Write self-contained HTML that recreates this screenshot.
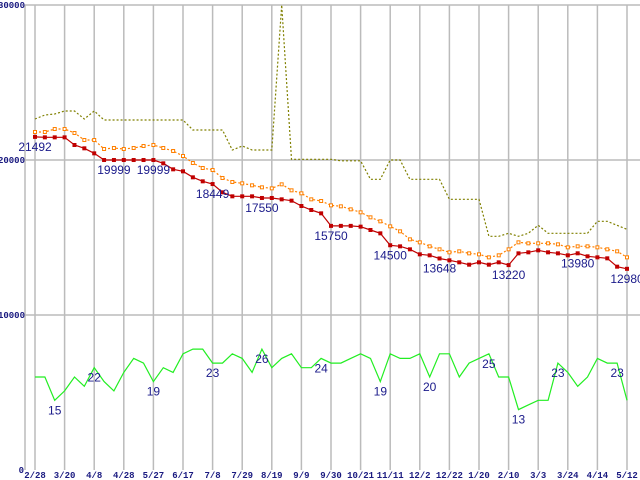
<!DOCTYPE html>
<html><head><meta charset="utf-8"><style>
html,body{margin:0;padding:0;background:#fff;}
svg{display:block;font-family:"Liberation Sans",sans-serif;}
.yt{font-family:"Liberation Mono",monospace;font-size:9px;font-weight:bold;fill:#1a1a80;}
.xt{font-family:"Liberation Mono",monospace;font-size:9px;font-weight:bold;fill:#1a1a80;}
.lb{font-size:12px;fill:#1a1a8a;}
</style></head><body>
<svg id="chart" width="640" height="480"></svg>
<script>
const xLabels=["2/28","3/20","4/8","4/28","5/27","6/17","7/8","7/29","8/19","9/9","9/30","10/21","11/11","12/2","12/22","1/20","2/10","3/3","3/24","4/14","5/12"];
const yTicks=[0,10000,20000,30000];
const minPrice=[21492,21462,21462,21462,20968,20753,20430,19999,19999,19999,19999,19999,19999,19785,19398,19269,18882,18624,18449,17914,17656,17656,17656,17550,17550,17462,17376,17032,16774,16559,15750,15750,15750,15700,15484,15269,14500,14430,14237,13914,13850,13648,13527,13398,13247,13398,13247,13398,13220,13978,14043,14172,14043,13978,13850,13980,13785,13720,13656,13118,12980];
const avgPrice=[21806,21806,22000,22000,21742,21290,21290,20710,20774,20710,20774,20903,20968,20774,20581,20258,19806,19484,19355,18839,18581,18495,18366,18237,18172,18430,18043,17850,17462,17355,17075,17011,16817,16624,16301,16043,15720,15398,14882,14688,14430,14237,14043,14108,13978,13914,13720,13850,14237,14688,14624,14624,14624,14559,14366,14430,14430,14366,14237,14108,13720];
const maxPrice=[22645,22903,22968,23161,23161,22645,23161,22581,22581,22581,22581,22581,22581,22581,22581,22581,21935,21935,21935,21935,20645,20903,20645,20645,20645,30000,20043,20043,20043,20043,20043,19950,19950,19950,18753,18753,20000,20000,18753,18753,18753,18753,17462,17462,17462,17462,15075,15075,15269,15075,15269,15785,15269,15269,15269,15269,15269,16043,16043,15785,15527];
const shopCount=[20,20,15,17,20,18,22,19,17,21,24,23,19,22,21,25,26,26,23,23,25,24,21,26,22,24,25,22,22,24,23,23,24,25,24,19,25,24,24,25,20,25,25,20,23,24,25,20,20,13,14,15,15,23,21,18,20,24,23,23,15];
const minLabelIdx=[0,8,12,18,23,30,36,41,48,55,60];
const countLabelIdx=[2,6,12,18,23,29,35,40,46,49,53,59];
const COUNT_SCALE=300;

const svg=document.getElementById('chart');
const NS='http://www.w3.org/2000/svg';
const N=minPrice.length;
const X=i=>35+i*(592/(N-1));
const Y=v=>470-v*0.0155;
function mk(tag,attrs,parent){const e=document.createElementNS(NS,tag);for(const k in attrs)e.setAttribute(k,attrs[k]);(parent||svg).appendChild(e);return e;}

const grid=mk('g',{});


mk('line',{x1:25,y1:4.5,x2:25,y2:470,stroke:'#bbb','stroke-width':1.5},grid);
xLabels.forEach((t,k)=>{
  const x=X(k*3);
  const l=mk('line',{x1:x,y1:4.5,x2:x,y2:470,stroke:'#bbb','stroke-width':1.5},grid);
  
  
  const tx=mk('text',{x:x,y:478,'text-anchor':'middle',class:'xt'});
  tx.textContent=t;
  
  
});
yTicks.forEach(v=>{
  const y=Y(v);
  if(v>0){const l=mk('line',{x1:25,y1:y,x2:640,y2:y,stroke:'#bbb','stroke-width':1.5},grid);
  
  }
  const tx=mk('text',{x:v===0?24:25,y:y+3,'text-anchor':'end',class:'yt'});
  tx.textContent=v;
  
  
});

function line(vals,scale,color,dash,name){
  const pts=vals.map((v,i)=>X(i).toFixed(1)+','+Y(v*scale).toFixed(1)).join(' ');
  const p=mk('polyline',{points:pts,fill:'none',stroke:color,'stroke-width':1.2});
  if(dash)p.setAttribute('stroke-dasharray',dash);
  
  
}
line(maxPrice,1,'#808000','2,2','max-price-line');
line(shopCount,COUNT_SCALE,'#22ee22',null,'shop-count-line');
line(avgPrice,1,'#ff8000','2,2','avg-price-line');
line(minPrice,1,'#c00000',null,'min-price-line');

avgPrice.forEach((v,i)=>{
  const r=mk('rect',{x:X(i)-1.5,y:Y(v)-1.5,width:3,height:3,fill:'#fff',stroke:'#ff8000','stroke-width':1});
  
  
});
minPrice.forEach((v,i)=>{
  const r=mk('rect',{x:X(i)-2,y:Y(v)-2,width:4,height:4,fill:'#c00000'});
  
  
});
minLabelIdx.forEach(i=>{
  const t=mk('text',{x:X(i),y:Y(minPrice[i])+14,'text-anchor':'middle',class:'lb'});
  t.textContent=minPrice[i];
  
  
});
countLabelIdx.forEach(i=>{
  const t=mk('text',{x:X(i),y:Y(shopCount[i]*COUNT_SCALE)+14,'text-anchor':'middle',class:'lb'});
  t.textContent=shopCount[i];
  
  
});
</script>
</body></html>
